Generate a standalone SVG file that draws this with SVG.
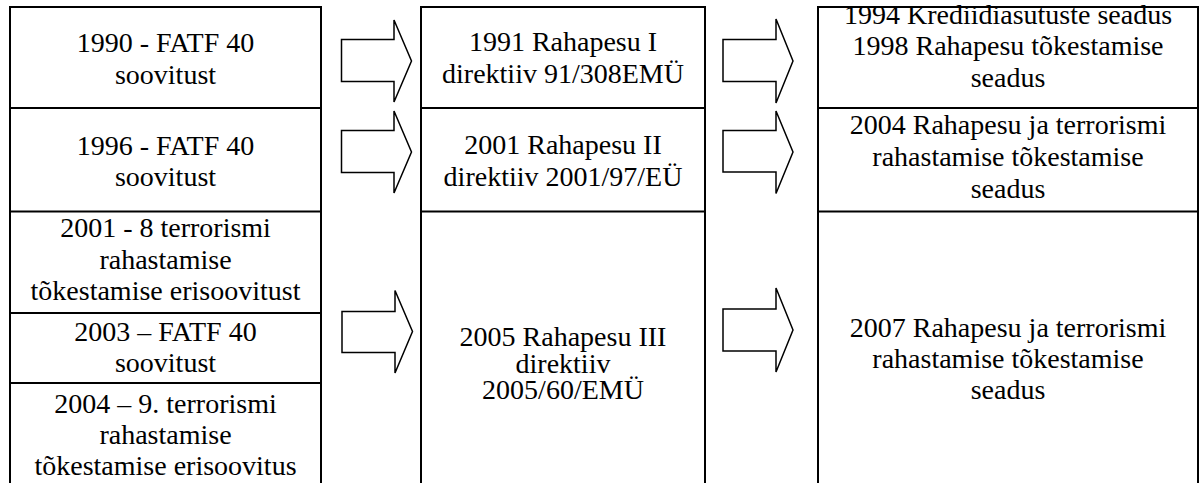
<svg xmlns="http://www.w3.org/2000/svg" width="1202" height="483" viewBox="0 0 1202 483">
<style>
.box{fill:#fff;stroke:#000;stroke-width:2}
.sep{stroke:#000;stroke-width:2}
.arr{fill:#fff;stroke:#000;stroke-width:1.5;stroke-linejoin:miter}
.t{font-size:28px;fill:#000;text-anchor:middle}
</style>
<rect width="1202" height="483" fill="#fff"/>
<g id="col1">
<rect class="box" x="10" y="7" width="311" height="490"/>
<line class="sep" x1="10" y1="108" x2="321" y2="108"/>
<line class="sep" x1="10" y1="211.5" x2="321" y2="211.5"/>
<line class="sep" x1="10" y1="313" x2="321" y2="313"/>
<line class="sep" x1="10" y1="383" x2="321" y2="383"/>
</g>
<g id="col2">
<rect class="box" x="421" y="7" width="284" height="490"/>
<line class="sep" x1="421" y1="108" x2="705" y2="108"/>
<line class="sep" x1="421" y1="211.5" x2="705" y2="211.5"/>
</g>
<g id="col3">
<rect class="box" x="818" y="7" width="380" height="490"/>
<line class="sep" x1="818" y1="108" x2="1198" y2="108"/>
<line class="sep" x1="818" y1="211.5" x2="1198" y2="211.5"/>
</g>
<g class="t" font-family="'Liberation Serif', Tinos, 'Times New Roman', serif">
<g id="n1990"><text x="165.5" y="52">1990 - FATF 40</text><text x="165.5" y="84">soovitust</text></g>
<g id="n1996"><text x="165.5" y="155">1996 - FATF 40</text><text x="165.5" y="186">soovitust</text></g>
<g id="n2001a"><text x="165.5" y="237">2001 - 8 terrorismi</text><text x="165.5" y="269">rahastamise</text><text x="165.5" y="300">tõkestamise erisoovitust</text></g>
<g id="n2003"><text x="165.5" y="341">2003 – FATF 40</text><text x="165.5" y="372">soovitust</text></g>
<g id="n2004a"><text x="165.5" y="413">2004 – 9. terrorismi</text><text x="165.5" y="444">rahastamise</text><text x="165.5" y="475">tõkestamise erisoovitus</text></g>
<g id="n1991"><text x="563" y="51">1991 Rahapesu I</text><text x="563" y="83">direktiiv 91/308EMÜ</text></g>
<g id="n2001b"><text x="563" y="154">2001 Rahapesu II</text><text x="563" y="186">direktiiv 2001/97/EÜ</text></g>
<g id="n2005"><text x="563" y="346">2005 Rahapesu III</text><text x="563" y="373">direktiiv</text><text x="563" y="399">2005/60/EMÜ</text></g>
<g id="n1994"><text x="1008" y="24">1994 Krediidiasutuste seadus</text><text x="1008" y="55">1998 Rahapesu tõkestamise</text><text x="1008" y="87">seadus</text></g>
<g id="n2004b"><text x="1008" y="134">2004 Rahapesu ja terrorismi</text><text x="1008" y="166">rahastamise tõkestamise</text><text x="1008" y="198">seadus</text></g>
<g id="n2007"><text x="1008" y="337">2007 Rahapesu ja terrorismi</text><text x="1008" y="368">rahastamise tõkestamise</text><text x="1008" y="399">seadus</text></g>
</g>
<g id="connectors">
<polygon class="arr" points="341.5,39.5 394,39.5 394,20 411.5,61 394,102 394,81.5 341.5,81.5"/>
<polygon class="arr" points="341.5,130.5 394,130.5 394,111 411.5,152 394,193 394,172.5 341.5,172.5"/>
<polygon class="arr" points="342,311.5 395,311.5 395,290.5 412.5,331.5 395,373 395,352.5 342,352.5"/>
<polygon class="arr" points="723,39.5 776,39.5 776,19 793,61 776,103 776,81.5 723,81.5"/>
<polygon class="arr" points="723,130.5 776,130.5 776,111 793,152 776,193.5 776,172 723,172"/>
<polygon class="arr" points="723,309 776,309 776,288 793,330 776,372 776,351 723,351"/>
</g>
</svg>
